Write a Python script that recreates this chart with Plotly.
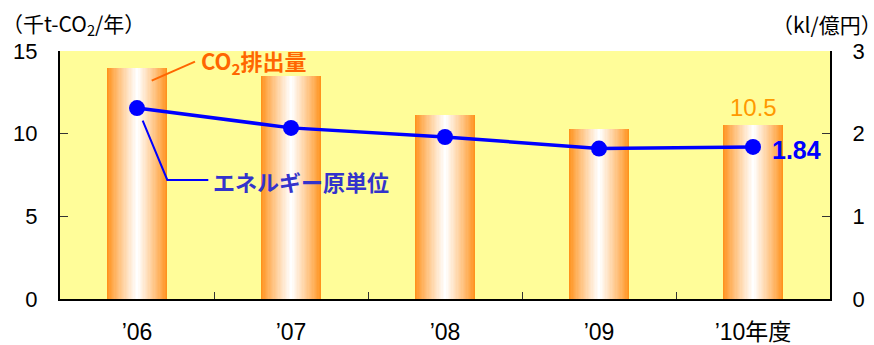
import plotly.graph_objects as go

categories = ["’06", "’07", "’08", "’09", "’10年度"]
co2_values = [14.0, 13.5, 11.1, 10.3, 10.5]
energy_values = [2.31, 2.07, 1.96, 1.82, 1.84]
left_ticks = [0, 5, 10, 15]
right_ticks = [0, 1, 2, 3]

W, H = 874, 345
L, R, T, B = 60, 44, 51, 46
PW, PH = W - L - R, H - T - B

def px(x):
    return (x - L) / PW

def py(y):
    return (H - B - y) / PH

FONT = "'Liberation Sans', Arial, 'Noto Sans CJK JP'"
JFONT = "'Noto Sans CJK JP', 'Liberation Sans'"

fig = go.Figure()

# gradient bars via overlaid layers
N = 24
bar_w = 0.39
orange = (255, 146, 28)
for i in range(N):
    t = i / (N - 1)
    f = t ** 0.9
    r = round(orange[0] + (255 - orange[0]) * f)
    g = round(orange[1] + (255 - orange[1]) * f)
    b = round(orange[2] + (255 - orange[2]) * f)
    fig.add_trace(go.Bar(
        x=categories, y=co2_values,
        width=bar_w * (1 - i / N),
        marker=dict(color=f"rgb({r},{g},{b})", line=dict(width=0)),
        showlegend=False, hoverinfo="skip", yaxis="y",
    ))

fig.add_trace(go.Scatter(
    x=categories, y=energy_values, yaxis="y2", mode="lines+markers",
    line=dict(color="#0000FF", width=3.5),
    marker=dict(color="#0000FF", size=16),
    showlegend=False,
))

fig.update_layout(
    width=W, height=H,
    margin=dict(l=L, r=R, t=T, b=B, autoexpand=False),
    paper_bgcolor="white", plot_bgcolor="#FFFD99",
    barmode="overlay", bargap=0,
    font=dict(family=FONT, color="black"),
    xaxis=dict(
        type="category", showline=True, linecolor="black", linewidth=2,
        ticks="inside", tickson="boundaries", ticklen=7, tickcolor="#333",
        tickfont=dict(size=23, family=FONT), ticklabelstandoff=11,
        showgrid=False, zeroline=False, fixedrange=True, automargin=False,
    ),
    yaxis=dict(
        range=[0, 15], tickvals=left_ticks, showline=True, linecolor="black", linewidth=2,
        ticks="inside", ticklen=8, tickcolor="#333", tickfont=dict(size=22),
        ticklabelstandoff=16, showgrid=False, zeroline=False, automargin=False,
    ),
    yaxis2=dict(
        range=[0, 3], tickvals=right_ticks, overlaying="y", side="right",
        showline=True, linecolor="black", linewidth=2,
        ticks="inside", ticklen=8, tickcolor="#333", tickfont=dict(size=22),
        ticklabelstandoff=16, showgrid=False, zeroline=False, automargin=False,
    ),
)

# leader lines
fig.add_shape(type="line", xref="paper", yref="paper",
              x0=px(151.7), y0=py(80.7), x1=px(195), y1=py(61.7),
              line=dict(color="#FF6600", width=2))
fig.add_shape(type="path", xref="paper", yref="paper",
              path=f"M {px(142.7)} {py(120.7)} L {px(167.3)} {py(180)} L {px(208.3)} {py(180)}",
              line=dict(color="#0000FF", width=2))

annos = [
    dict(text="CO<sub>2</sub>排出量", x=px(199), y=py(62), xanchor="left", yanchor="middle",
         font=dict(size=22, color="#FF6600", family=JFONT, weight="bold")),
    dict(text="エネルギー原単位", x=px(211), y=py(181), xanchor="left", yanchor="middle",
         font=dict(size=22, color="#3333CC", family=JFONT, weight="bold")),
    dict(text="（千t-CO<sub>2</sub>/年）", x=px(0), y=py(24), xanchor="left", yanchor="middle",
         font=dict(size=21, color="black", family=JFONT)),
    dict(text="（kl/億円）", x=px(884), y=py(24), xanchor="right", yanchor="middle",
         font=dict(size=21, color="black", family=JFONT)),
]
for a in annos:
    fig.add_annotation(xref="paper", yref="paper", showarrow=False, **a)

fig.add_annotation(xref="x", yref="y", x=categories[-1], y=co2_values[-1],
                   text=f"{co2_values[-1]}", showarrow=False, yanchor="bottom", yshift=2,
                   font=dict(size=24, color="#FF9900", family=FONT))
fig.add_annotation(xref="x", yref="y2", x=categories[-1], y=energy_values[-1],
                   text=f"{energy_values[-1]:.2f}", showarrow=False, xanchor="left", yshift=-3,
                   xshift=17, font=dict(size=25, color="#0000FF", family=FONT, weight="bold"))

fig.write_html("out.html")
